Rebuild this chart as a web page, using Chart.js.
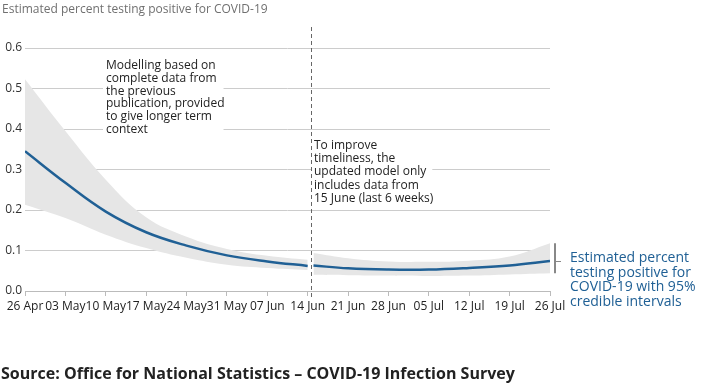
<!DOCTYPE html>
<html>
<head>
<meta charset="utf-8">
<script src="https://cdn.jsdelivr.net/npm/chart.js@4/dist/chart.umd.min.js"></script>
<style>
  html, body { margin: 0; padding: 0; background: #fff; }
  #chart { display: block; }
</style>
</head>
<body>
<canvas id="chart" width="714" height="387"></canvas>
<script>
// x axis is in days from 26 Apr, ticks weekly
const tickLabels = ['26 Apr', '03 May', '10 May', '17 May', '24 May', '31 May', '07 Jun',
    '14 Jun', '21 Jun', '28 Jun', '05 Jul', '12 Jul', '19 Jul', '26 Jul'];
const yTicks = [0, 0.1, 0.2, 0.3, 0.4, 0.5, 0.6];

// modelled on the previous publication (26 Apr - 14 Jun)
const modelDays = [0, 7, 14, 21, 28, 35, 42, 49];
const modelCentral = [0.345, 0.267, 0.196, 0.145, 0.112, 0.088, 0.073, 0.062];
const modelUpper = [0.523, 0.395, 0.275, 0.182, 0.134, 0.104, 0.087, 0.077];
const modelLower = [0.213, 0.180, 0.139, 0.106, 0.082, 0.065, 0.057, 0.052];

// updated model (15 Jun - 26 Jul)
const recentDays = [50, 56, 63, 70, 77, 84, 91];
const recentCentral = [0.063, 0.056, 0.053, 0.053, 0.057, 0.063, 0.074];
const recentUpper = [0.094, 0.081, 0.073, 0.072, 0.075, 0.085, 0.118];
const recentLower = [0.040, 0.039, 0.038, 0.037, 0.038, 0.041, 0.044];

const splitDay = 49.5;

const titleText = 'Estimated percent testing positive for COVID-19';
const sourceText = 'Source: Office for National Statistics \u2013 COVID-19 Infection Survey';
const noteLeft = ['Modelling based on', 'complete data from', 'the previous',
    'publication, provided', 'to give longer term', 'context'];
const noteRight = ['To improve', 'timeliness, the', 'updated model only',
    'includes data from', '15 June (last 6 weeks)'];
const legendText = ['Estimated percent', 'testing positive for', 'COVID-19 with 95%', 'credible intervals'];

const blue = '#206095';
const band = '#e6e6e6';
const FONT = '"Open Sans", "Noto Sans", sans-serif';

const pts = (days, vals) => days.map((d, i) => ({ x: d, y: vals[i] }));

const lineStyle = {
    borderColor: blue,
    borderWidth: 2.5,
    pointRadius: 0,
    tension: 0.4,
    fill: false
};
const bandStyle = {
    borderWidth: 0,
    borderColor: 'rgba(0,0,0,0)',
    backgroundColor: band,
    pointRadius: 0,
    tension: 0.4
};

const textBlock = (ctx, lines, x, y0, lh) => {
    let w = 0;
    lines.forEach(l => { w = Math.max(w, ctx.measureText(l).width); });
    ctx.fillStyle = '#fff';
    ctx.fillRect(x - 3, y0 - lh + 1, w + 2, lh * lines.length + 3);
    ctx.fillStyle = '#222';
    lines.forEach((l, i) => ctx.fillText(l, x, y0 + i * lh));
};

const extras = {
    id: 'extras',
    afterDraw(chart) {
        const ctx = chart.ctx;
        const xs = chart.scales.x;
        const ys = chart.scales.y;
        ctx.save();
        ctx.textBaseline = 'alphabetic';
        ctx.textAlign = 'left';

        // title
        ctx.font = '12px ' + FONT;
        ctx.fillStyle = '#707070';
        ctx.fillText(titleText, 2, 13);

        // notes
        ctx.font = '12px ' + FONT;
        textBlock(ctx, noteLeft, 106, 69, 12.8);
        textBlock(ctx, noteRight, 314, 149, 13.2);

        // split marker
        const sx = Math.round(xs.getPixelForValue(splitDay)) + 0.5;
        ctx.strokeStyle = '#666';
        ctx.lineWidth = 1;
        ctx.setLineDash([4, 3]);
        ctx.beginPath();
        ctx.moveTo(sx, 27);
        ctx.lineTo(sx, 298);
        ctx.stroke();
        ctx.setLineDash([]);

        // legend bracket
        const last = recentDays.length - 1;
        const bx = xs.right + 5;
        ctx.strokeStyle = '#888';
        ctx.lineWidth = 2;
        ctx.beginPath();
        ctx.moveTo(bx, ys.getPixelForValue(recentUpper[last]));
        ctx.lineTo(bx, ys.getPixelForValue(recentLower[last]));
        ctx.stroke();
        ctx.lineWidth = 1;
        ctx.beginPath();
        const cy = Math.round(ys.getPixelForValue(recentCentral[last])) + 0.5;
        ctx.moveTo(bx, cy);
        ctx.lineTo(bx + 6, cy);
        ctx.stroke();

        ctx.font = '14px ' + FONT;
        ctx.fillStyle = blue;
        legendText.forEach((l, i) => ctx.fillText(l, 570, 262 + i * 14.5));

        // source
        ctx.font = 'bold 16px ' + FONT;
        ctx.fillStyle = '#222';
        ctx.fillText(sourceText, 1, 379);
        ctx.restore();
    }
};

new Chart(document.getElementById('chart'), {
    type: 'line',
    data: {
        datasets: [
            Object.assign({ data: pts(modelDays, modelCentral) }, lineStyle),
            Object.assign({ data: pts(recentDays, recentCentral) }, lineStyle),
            Object.assign({ data: pts(modelDays, modelUpper), fill: 3 }, bandStyle),
            Object.assign({ data: pts(modelDays, modelLower), fill: false }, bandStyle),
            Object.assign({ data: pts(recentDays, recentUpper), fill: 5 }, bandStyle),
            Object.assign({ data: pts(recentDays, recentLower), fill: false }, bandStyle)
        ]
    },
    options: {
        responsive: false,
        animation: false,
        events: [],
        layout: {
            padding: { left: 0, top: 48, right: 164, bottom: 71 }
        },
        plugins: {
            legend: { display: false },
            tooltip: { enabled: false }
        },
        scales: {
            x: {
                type: 'linear',
                min: 0,
                max: 91,
                afterFit: s => { s.height = 25; },
                afterBuildTicks: s => {
                    s.ticks = tickLabels.map((t, i) => ({ value: i * 7 }));
                },
                ticks: {
                    autoSkip: false,
                    maxRotation: 0,
                    padding: 3,
                    color: '#222',
                    font: { family: FONT, size: 12 },
                    callback: v => tickLabels[Math.round(v / 7)]
                },
                grid: {
                    drawOnChartArea: false,
                    drawTicks: true,
                    tickLength: 5,
                    color: '#bbb'
                },
                border: { color: '#bbb' }
            },
            y: {
                min: 0,
                max: 0.6,
                afterFit: s => { s.width = 25; },
                afterBuildTicks: s => {
                    s.ticks = yTicks.map(v => ({ value: v }));
                },
                ticks: {
                    padding: 3,
                    color: '#333',
                    font: { family: FONT, size: 12 },
                    callback: v => v.toFixed(1)
                },
                grid: {
                    drawTicks: false,
                    color: '#ccc'
                },
                border: { display: false }
            }
        }
    },
    plugins: [extras]
});
</script>
</body>
</html>
